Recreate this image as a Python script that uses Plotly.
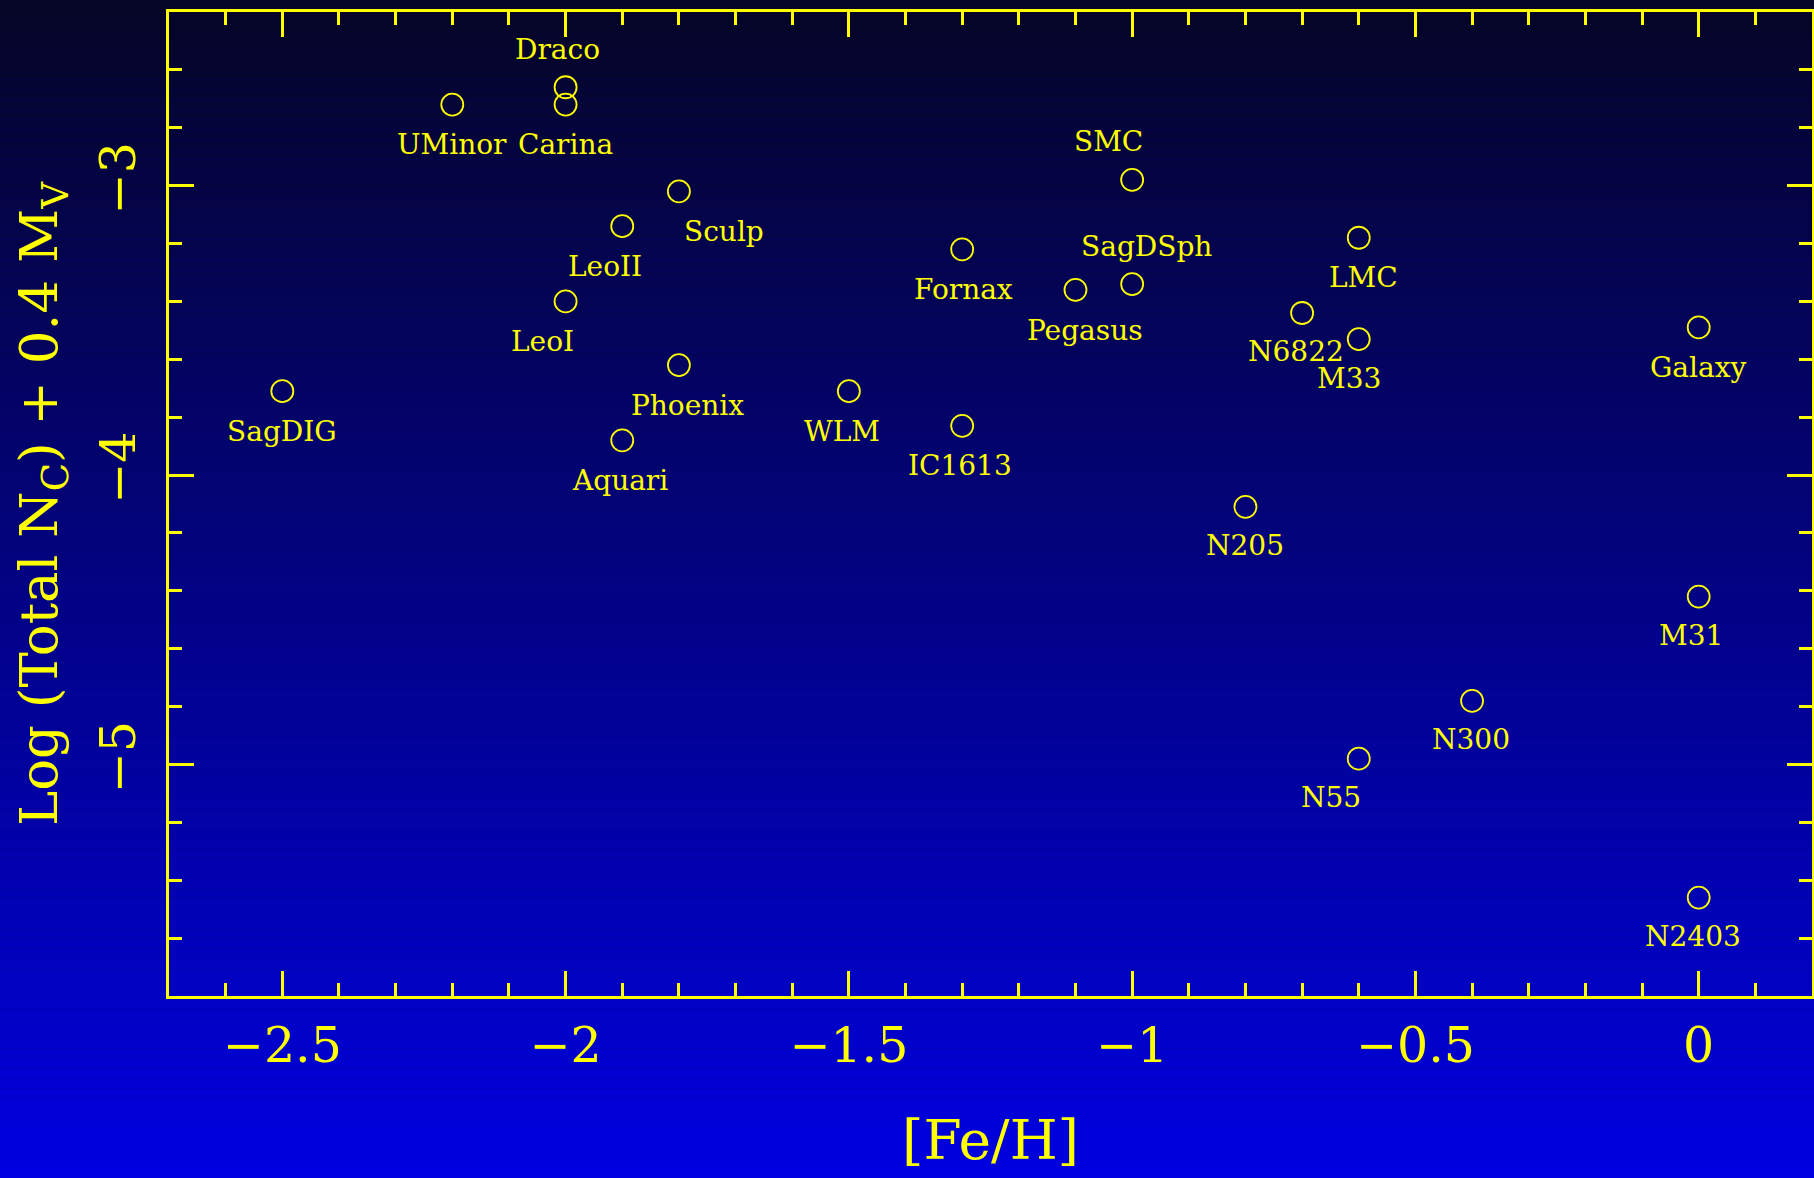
import plotly.graph_objects as go

# ---- data ----
names = ["SagDIG", "UMinor", "Draco", "Carina", "Sculp", "LeoII", "LeoI", "Phoenix",
         "Aquari", "WLM", "Fornax", "IC1613", "Pegasus", "SMC", "SagDSph", "LMC",
         "N6822", "M33", "Galaxy", "N205", "M31", "N300", "N55", "N2403"]
feh = [-2.5, -2.2, -2.0, -2.0, -1.8, -1.9, -2.0, -1.8,
       -1.9, -1.5, -1.3, -1.3, -1.1, -1.0, -1.0, -0.6,
       -0.7, -0.6, 0.0, -0.8, 0.0, -0.4, -0.6, 0.0]
lognc = [-3.71, -2.72, -2.66, -2.72, -3.02, -3.14, -3.40, -3.62,
         -3.88, -3.71, -3.22, -3.83, -3.36, -2.98, -3.34, -3.18,
         -3.44, -3.53, -3.49, -4.11, -4.42, -4.78, -4.98, -5.46]

# label offsets in pixels (dx right, dy up)
label_dx = [0, 0, -8, 0, 45, -17, -23, 9, -2, -7, 1, -2, 10, -24, 14, 5,
            -6, -10, 0, 0, -8, -1, -28, -6]
label_dy = [-40, -40, 38, -40, -40, -40, -40, -40, -40, -40, -40, -40, -41, 38, 38, -40,
            -39, -39, -40, -39, -39, -39, -39, -39]

YEL = "#ffff00"
W, H = 1814, 1178
ML, MR, MT, MB = 169, 2, 12, 182
PW, PH = W - ML - MR, H - MT - MB

fig = go.Figure()
fig.add_trace(go.Scatter(
    x=feh, y=lognc, mode="markers",
    marker=dict(symbol="circle-open", size=22, color=YEL, line=dict(width=1.8, color=YEL)),
    hoverinfo="text", text=names, showlegend=False,
))

for n, x, y, dx, dy in zip(names, feh, lognc, label_dx, label_dy):
    fig.add_annotation(x=x, y=y, text=n, showarrow=False, xshift=dx, yshift=dy,
                       font=dict(family="DejaVu Serif", size=28, color=YEL),
                       xanchor="center", yanchor="middle")

# vertical gradient background built from thin bands
shapes = []
N = 118
for i in range(N):
    y0px = i * H / N
    y1px = (i + 1) * H / N
    t = (i + 0.5) / N
    r = round(5 * (1 - t))
    b = round(38 + 187 * t)
    col = f"rgb({r},{r},{b})"
    shapes.append(dict(
        type="rect", xref="paper", yref="paper", layer="below",
        x0=-ML / PW, x1=(W - ML) / PW,
        y0=1 - (y1px - MT) / PH, y1=1 - (y0px - MT) / PH,
        fillcolor=col, line=dict(width=0),
    ))

axis_common = dict(
    showline=True, linecolor=YEL, linewidth=3, mirror="ticks",
    ticks="inside", tickcolor=YEL, tickwidth=2.5, ticklen=25,
    showgrid=False, zeroline=False,
    tickfont=dict(family="DejaVu Serif", size=49, color=YEL),
)

fig.update_layout(
    width=W, height=H,
    margin=dict(l=ML, r=MR, t=MT, b=MB, autoexpand=False),
    paper_bgcolor="rgb(0,0,130)",
    plot_bgcolor="rgba(0,0,0,0)",
    shapes=shapes,
    xaxis=dict(
        **axis_common, range=[-2.7, 0.2], tickmode="linear", tick0=0, dtick=0.5,
        minor=dict(dtick=0.1, ticks="inside", ticklen=13, tickcolor=YEL, tickwidth=2.5),
        ticklabelstandoff=4,
        title=dict(text="[Fe/H]", font=dict(family="DejaVu Serif", size=55, color=YEL), standoff=48),
    ),
    yaxis=dict(
        **axis_common, range=[-5.8, -2.4], tickmode="linear", tick0=0, dtick=1,
        minor=dict(dtick=0.2, ticks="inside", ticklen=13, tickcolor=YEL, tickwidth=2.5),
        tickangle=-90, ticklabelstandoff=11,
        title=dict(text="Log (Total N<sub>C</sub>) + 0.4 M<sub>V</sub>",
                   font=dict(family="DejaVu Serif", size=53, color=YEL), standoff=16),
    ),
)

fig.write_html("out.html", config={"displayModeBar": False},
               post_script="document.body.style.margin='0';document.body.style.overflow='hidden';")
